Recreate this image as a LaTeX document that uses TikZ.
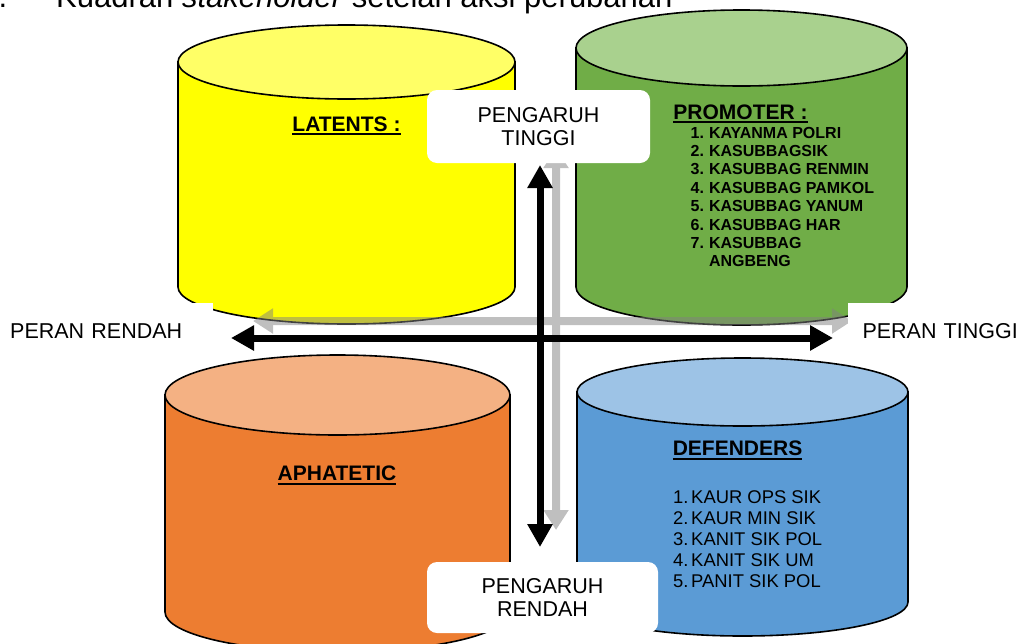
\documentclass[tikz,border=0pt]{standalone}
\usepackage{fontspec}
\setmainfont{Liberation Sans}
\usetikzlibrary{arrows.meta,positioning}

\newcommand{\ulbar}[1]{\setbox0=\hbox{#1}\leavevmode\rlap{\copy0}\rule[-4pt]{\wd0}{2pt}}
% centre x, top y, bottom y, x radius, y radius, body colour, top colour, name
\newcommand{\drum}[8]{%
    \filldraw[drumline, fill=#6] ({#1-#4},#2) -- ({#1-#4},#3)
        arc[start angle=180, end angle=0, x radius=#4, y radius=#5] -- ({#1+#4},#2) -- cycle;
    \filldraw[drumline, fill=#7] (#1,#2) ellipse[x radius=#4, y radius=#5];
    \coordinate (#8) at (#1,{(#2+#3)/2});}

\definecolor{latentbody}{HTML}{FFFF00}
\definecolor{latenttop}{HTML}{FFFF66}
\definecolor{promoterbody}{HTML}{70AD47}
\definecolor{promotertop}{HTML}{A9D18E}
\definecolor{apathybody}{HTML}{ED7D31}
\definecolor{apathytop}{HTML}{F4B183}
\definecolor{defenderbody}{HTML}{5B9BD5}
\definecolor{defendertop}{HTML}{9DC3E6}

\begin{document}
\begin{tikzpicture}[x=1pt,y=-1pt,
    drumline/.style={draw=black, line width=1.6pt},
    heading/.style={anchor=base, inner sep=0pt,
        font=\fontsize{21}{24}\selectfont\bfseries},
    roster/.style={anchor=base west, inner sep=0pt},
    badge/.style={fill=white, rounded corners=10pt,
        align=center, inner sep=0pt,
        font=\fontsize{21.5}{23}\selectfont},
    side/.style={fill=white, inner ysep=0pt, minimum height=57pt,
        font=\fontsize{21.5}{24}\selectfont},
    axis/.style={line width=7pt,
        {Triangle[length=23pt,width=24pt]}-{Triangle[length=23pt,width=24pt]}},
    ghost/.style={line width=8pt, draw=black!50,
        {Triangle[length=20pt,width=24pt]}-{Triangle[length=20pt,width=24pt]}},
    ]

    \useasboundingbox (0,0) rectangle (1027,643);

    % caption
    \node[anchor=base east, inner sep=0pt, font=\fontsize{31}{36}\selectfont] (number) at (7.5,7) {2.};
    \node[anchor=base west, inner sep=0pt, font=\fontsize{31}{36}\selectfont] (caption) at (56,7)
        {Kuadran \textit{stakeholder} setelah aksi perubahan};

    % the four drums
    \drum{346.5}{62}{287}{168.5}{37}{latentbody}{latenttop}{latents}
    \drum{741.5}{48}{287}{165.5}{38}{promoterbody}{promotertop}{promoters}
    \drum{337.5}{395}{612}{172.5}{40}{apathybody}{apathytop}{apathetic}
    \drum{742.5}{392}{602}{165.5}{34}{defenderbody}{defendertop}{defenders}

    % axes
    \coordinate (roleleftback) at (253,321);
    \coordinate (rolerightback) at (852,321);
    \coordinate (powertopback) at (556,148);
    \coordinate (powerbottomback) at (556,530);
    \coordinate (roleleft) at (231,338);
    \coordinate (roleright) at (833,338);
    \coordinate (powertop) at (540,165);
    \coordinate (powerbottom) at (540,547);

    \begin{scope}[opacity=.5, transparency group]
        \draw[ghost] (roleleftback) -- (rolerightback);
        \draw[ghost] (powertopback) -- (powerbottomback);
    \end{scope}
    \draw[axis] (roleleft) -- (roleright);
    \draw[axis] (powertop) -- (powerbottom);

    % axis labels
    \node[badge, minimum width=223pt, minimum height=73pt] (hightop) at (538.5,126.5) {PENGARUH\\TINGGI};
    \node[badge, minimum width=231pt, minimum height=71pt] (lowbottom) at (542.5,597.5) {PENGARUH\\RENDAH};
    \node[side, anchor=west, text width=193pt, align=left, inner xsep=10pt] (lowrole) at (0,331) {PERAN RENDAH};
    \node[side, anchor=east, text width=161pt, align=right, inner xsep=9pt] (highrole) at (1027,331) {PERAN TINGGI};

    % drum labels
    \node[heading] (latentstitle) at (346.5,131) {\ulbar{LATENTS :}};
    \node[heading] (promotertitle) at (740.5,119) {\ulbar{PROMOTER :}};
    \node[heading] (apathetictitle) at (337,480.5) {\ulbar{APHATETIC}};
    \node[heading] (defendertitle) at (737.5,455.5) {\ulbar{DEFENDERS}};

    \node[roster, font=\fontsize{16}{18.4}\selectfont\bfseries] (promoterlist) at (690.5,138)
        {\begin{tabular}[t]{@{}l@{\hspace{5pt}}l@{}}
        1. & KAYANMA POLRI\\
        2. & KASUBBAGSIK\\
        3. & KASUBBAG RENMIN\\
        4. & KASUBBAG PAMKOL\\
        5. & KASUBBAG YANUM\\
        6. & KASUBBAG HAR\\
        7. & KASUBBAG\\
           & ANGBENG
        \end{tabular}};
    \node[roster, font=\fontsize{18.4}{21}\selectfont] (defenderlist) at (673,503)
        {\begin{tabular}[t]{@{}l@{\hspace{2.7pt}}l@{}}
        1. & KAUR OPS SIK\\
        2. & KAUR MIN SIK\\
        3. & KANIT SIK POL\\
        4. & KANIT SIK UM\\
        5. & PANIT SIK POL
        \end{tabular}};
\end{tikzpicture}
\end{document}
